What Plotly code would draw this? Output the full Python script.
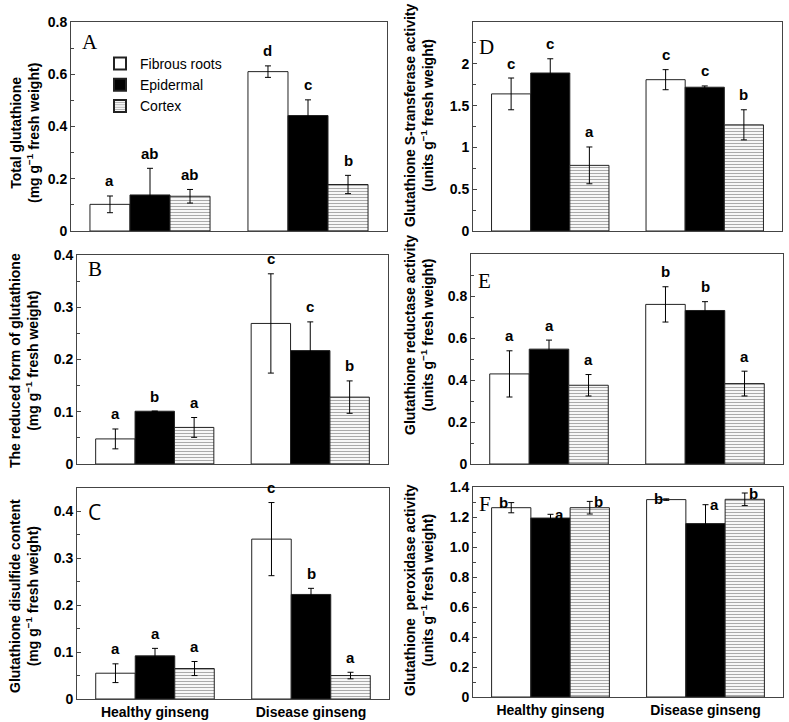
import plotly.graph_objects as go

# ---------------- data ----------------
categories = ["Healthy ginseng", "Disease ginseng"]
series_names = ["Fibrous roots", "Epidermal", "Cortex"]

# Panel A: Total glutathione
A_fib = [0.102, 0.610]; A_fib_err = [0.032, 0.022]
A_epi = [0.138, 0.442]; A_epi_err = [0.102, 0.060]
A_cor = [0.133, 0.178]; A_cor_err = [0.026, 0.035]
A_fib_lab = ["a", "d"]; A_epi_lab = ["ab", "c"]; A_cor_lab = ["ab", "b"]

# Panel B: reduced glutathione
B_fib = [0.048, 0.269]; B_fib_err = [0.019, 0.095]
B_epi = [0.101, 0.217]; B_epi_err = [0.0, 0.055]
B_cor = [0.070, 0.128]; B_cor_err = [0.019, 0.031]
B_fib_lab = ["a", "c"]; B_epi_lab = ["b", "c"]; B_cor_lab = ["a", "b"]

# Panel C: glutathione disulfide
C_fib = [0.055, 0.341]; C_fib_err = [0.020, 0.078]
C_epi = [0.092, 0.223]; C_epi_err = [0.016, 0.013]
C_cor = [0.065, 0.050]; C_cor_err = [0.015, 0.007]
C_fib_lab = ["a", "c"]; C_epi_lab = ["a", "b"]; C_cor_lab = ["a", "a"]

# Panel D: glutathione S-transferase
D_fib = [1.64, 1.81]; D_fib_err = [0.19, 0.12]
D_epi = [1.89, 1.72]; D_epi_err = [0.17, 0.015]
D_cor = [0.785, 1.27]; D_cor_err = [0.22, 0.18]
D_fib_lab = ["c", "c"]; D_epi_lab = ["c", "c"]; D_cor_lab = ["a", "b"]

# Panel E: glutathione reductase
E_fib = [0.429, 0.760]; E_fib_err = [0.110, 0.084]
E_epi = [0.547, 0.731]; E_epi_err = [0.043, 0.042]
E_cor = [0.375, 0.383]; E_cor_err = [0.051, 0.059]
E_fib_lab = ["a", "b"]; E_epi_lab = ["a", "b"]; E_cor_lab = ["a", "a"]

# Panel F: glutathione peroxidase
F_fib = [1.262, 1.316]; F_fib_err = [0.034, 0.005]
F_epi = [1.193, 1.156]; F_epi_err = [0.025, 0.126]
F_cor = [1.262, 1.318]; F_cor_err = [0.042, 0.042]
F_fib_lab = ["b", "b"]; F_epi_lab = ["a", "a"]; F_cor_lab = ["b", "b"]

A_ticks = [0, 0.2, 0.4, 0.6, 0.8]
B_ticks = [0, 0.1, 0.2, 0.3, 0.4]
C_ticks = [0, 0.1, 0.2, 0.3, 0.4]
D_ticks = [0, 0.5, 1, 1.5, 2]
E_ticks = [0, 0.2, 0.4, 0.6, 0.8]
F_ticks = [0, 0.2, 0.4, 0.6, 0.8, 1.0, 1.2, 1.4]
F_ticktext = ["0", "0.2", "0.4", "0.6", "0.8", "1.0", "1.2", "1.4"]

# ---------------- layout helpers ----------------
W, H = 789, 722
SANS = "Liberation Sans, Arial, sans-serif"
SERIF = "Liberation Serif, Times New Roman, serif"
BARGAP = 0.24

def px_x(a, b):
    return [a / W, b / W]

def px_y(top, bottom):
    return [1 - bottom / H, 1 - top / H]

panels = [
    dict(key="A", data=[(A_fib, A_fib_err, A_fib_lab), (A_epi, A_epi_err, A_epi_lab), (A_cor, A_cor_err, A_cor_lab)],
         xd=(71, 387), yd=(22, 231), yr=[0, 0.8], tv=A_ticks, tt=None, mdt=0.1, bottom=False,
         title="Total glutathione<br>(mg g<sup>−1</sup> fresh weight)", tx=25, ty=133,
         lx=0.03, ly=0.904, lfont=SERIF),
    dict(key="B", data=[(B_fib, B_fib_err, B_fib_lab), (B_epi, B_epi_err, B_epi_lab), (B_cor, B_cor_err, B_cor_lab)],
         xd=(77, 388), yd=(255, 464), yr=[0, 0.4], tv=B_ticks, tt=None, mdt=0.05, bottom=False,
         title="The reduced form of glutathione<br>(mg g<sup>−1</sup> fresh weight)", tx=24, ty=361,
         lx=0.03, ly=0.933, lfont=SERIF),
    dict(key="C", data=[(C_fib, C_fib_err, C_fib_lab), (C_epi, C_epi_err, C_epi_lab), (C_cor, C_cor_err, C_cor_lab)],
         xd=(77, 389), yd=(488, 699), yr=[0, 0.45], tv=C_ticks, tt=None, mdt=0.05, bottom=True,
         title="Glutathione disulfide content<br>(mg g<sup>−1</sup> fresh weight)", tx=24, ty=596,
         lx=0.03, ly=0.886, lfont="Open Sans, Liberation Sans, sans-serif"),
    dict(key="D", data=[(D_fib, D_fib_err, D_fib_lab), (D_epi, D_epi_err, D_epi_lab), (D_cor, D_cor_err, D_cor_lab)],
         xd=(473, 782), yd=(22, 231), yr=[0, 2.5], tv=D_ticks, tt=None, mdt=0.25, bottom=False,
         title="Glutathione S-transferase activity<br>(units g<sup>−1</sup> fresh weight)", tx=419, ty=115,
         lx=0.012, ly=0.88, lfont=SERIF),
    dict(key="E", data=[(E_fib, E_fib_err, E_fib_lab), (E_epi, E_epi_err, E_epi_lab), (E_cor, E_cor_err, E_cor_lab)],
         xd=(471, 783), yd=(254, 464), yr=[0, 1.0], tv=E_ticks, tt=None, mdt=0.1, bottom=False,
         title="Glutathione reductase activity<br>(units g<sup>−1</sup> fresh weight)", tx=419, ty=335,
         lx=0.016, ly=0.871, lfont=SERIF),
    dict(key="F", data=[(F_fib, F_fib_err, F_fib_lab), (F_epi, F_epi_err, F_epi_lab), (F_cor, F_cor_err, F_cor_lab)],
         xd=(473, 783), yd=(487, 697), yr=[0, 1.4], tv=F_ticks, tt=F_ticktext, mdt=0.1, bottom=True,
         title="Glutathione  peroxidase activity<br>(units g<sup>−1</sup> fresh weight)", tx=419, ty=590,
         lx=0.012, ly=0.919, lfont=SERIF, side=True),
]

fills = [
    dict(color="white"),
    dict(color="black"),
    dict(color="white", pattern=dict(shape="-", fgcolor="#555555", bgcolor="white", size=3, solidity=0.4)),
]

fig = go.Figure()
annotations = []
layout_axes = {}
bar_w = (1 - BARGAP) / 3

for pi, p in enumerate(panels):
    n = pi + 1
    xa = "x" if n == 1 else f"x{n}"
    ya = "y" if n == 1 else f"y{n}"
    for si, (vals, errs, labs) in enumerate(p["data"]):
        fig.add_trace(go.Bar(
            x=categories, y=vals, name=series_names[si],
            xaxis=xa, yaxis=ya, legendgroup=series_names[si], showlegend=(n == 1),
            marker=dict(line=dict(color="#222222", width=1), **fills[si]),
            error_y=dict(type="data", array=errs, visible=True, color="black", thickness=1, width=3),
        ))
        for ci in range(len(categories)):
            top = vals[ci] + errs[ci]
            xpos = ci + (si - 1) * bar_w
            if p.get("side"):
                xs = -8 if si == 0 else 9
                ys = 0
            else:
                xs, ys = 0, 15
            annotations.append(dict(
                x=xpos, y=top, xref=xa, yref=ya, text=labs[ci], showarrow=False,
                xshift=xs, yshift=ys, xanchor="center", yanchor="middle",
                font=dict(family=SANS, size=15, color="black", weight="bold")))
    # panel letter
    annotations.append(dict(
        x=p["lx"], y=p["ly"], xref=f"{xa} domain", yref=f"{ya} domain", text=p["key"],
        showarrow=False, xanchor="left", yanchor="middle",
        font=dict(family=p["lfont"], size=21, color="black")))
    # y axis title
    annotations.append(dict(
        x=p["tx"] / W, y=1 - p["ty"] / H, xref="paper", yref="paper", text=p["title"],
        showarrow=False, textangle=-90, xanchor="center", yanchor="middle",
        font=dict(family=SANS, size=14, color="black", weight="bold")))

    xkey = "xaxis" if n == 1 else f"xaxis{n}"
    ykey = "yaxis" if n == 1 else f"yaxis{n}"
    layout_axes[xkey] = dict(
        domain=px_x(*p["xd"]), anchor=ya, range=[-0.5, 1.5], type="category",
        showline=True, mirror=True, linecolor="#444444", linewidth=1,
        ticks="", showgrid=False, zeroline=False, automargin=False,
        showticklabels=p["bottom"],
        tickfont=dict(family=SANS, size=14, color="black", weight="bold"),
    )
    yax = dict(
        domain=px_y(*p["yd"]), anchor=xa, range=p["yr"],
        showline=True, mirror=True, linecolor="#444444", linewidth=1,
        ticks="inside", ticklen=4, tickcolor="#444444",
        tickvals=p["tv"],
        minor=dict(ticks="inside", ticklen=3, dtick=p["mdt"], tick0=0, tickcolor="#444444", showgrid=False),
        showgrid=False, zeroline=False, automargin=False,
        tickfont=dict(family=SANS, size=14, color="black", weight="bold"),
    )
    if p["tt"] is not None:
        yax["ticktext"] = p["tt"]
    layout_axes[ykey] = yax

fig.update_layout(
    width=W, height=H,
    margin=dict(l=0, r=0, t=0, b=0, autoexpand=False),
    paper_bgcolor="white", plot_bgcolor="white",
    barmode="group", bargap=BARGAP, bargroupgap=0,
    showlegend=True,
    legend=dict(x=100 / W, y=1 - 48 / H, xanchor="left", yanchor="top",
                bgcolor="rgba(0,0,0,0)", font=dict(family=SANS, size=14, color="black"),
                tracegroupgap=0, itemsizing="constant"),
    annotations=annotations,
    **layout_axes,
)

fig.write_html("out.html",
               config={"displayModeBar": False},
               post_script="document.body.style.margin='0';document.body.style.overflow='hidden';")
